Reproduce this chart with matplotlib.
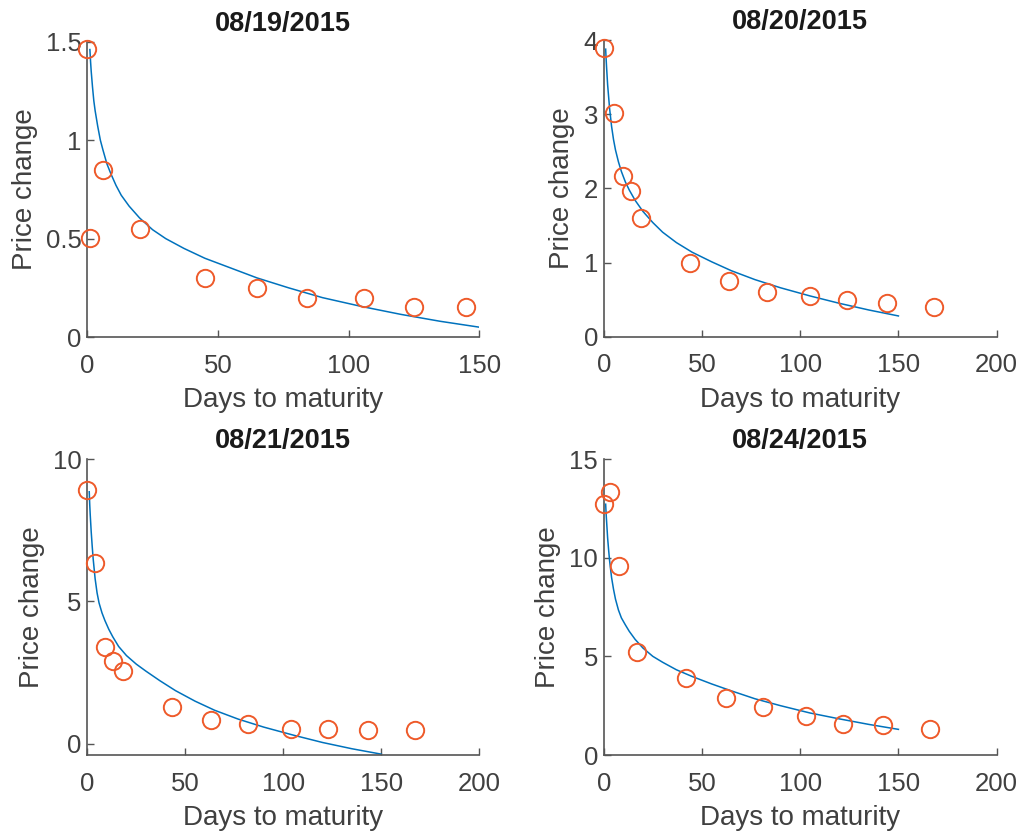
import matplotlib
matplotlib.use("Agg")
import matplotlib.pyplot as plt

plt.rcParams["font.family"] = ["Liberation Sans", "DejaVu Sans"]

# titles (trading dates)
dates = ["08/19/2015", "08/20/2015", "08/21/2015", "08/24/2015"]

# observed price changes vs days to maturity
days_0819 = [0, 1, 6, 20, 45, 65, 84, 106, 125, 145]
chg_0819 = [1.465, 0.505, 0.85, 0.55, 0.30, 0.25, 0.20, 0.20, 0.15, 0.15]

days_0820 = [0, 5, 10, 14, 19, 44, 64, 83, 105, 124, 144, 168]
chg_0820 = [3.89, 3.02, 2.17, 1.97, 1.60, 1.00, 0.75, 0.60, 0.55, 0.50, 0.45, 0.40]

days_0821 = [0, 4, 9, 13, 18, 43, 63, 82, 104, 123, 143, 167]
chg_0821 = [8.90, 6.36, 3.39, 2.91, 2.57, 1.29, 0.84, 0.70, 0.54, 0.54, 0.49, 0.49]

days_0824 = [0, 3, 8, 17, 42, 62, 81, 103, 122, 142, 166]
chg_0824 = [12.70, 13.31, 9.58, 5.24, 3.89, 2.91, 2.42, 1.99, 1.55, 1.50, 1.30]

# fitted curves
fit_days = [1, 1.25, 1.5, 2, 2.5, 3, 4, 5, 6, 7.5, 9, 11, 13, 16, 20, 25, 30,
            37, 45, 55, 65, 77, 90, 105, 120, 135, 150]
fit_0819 = [1.46, 1.40, 1.35, 1.27, 1.20, 1.15, 1.07, 1.00, 0.95, 0.88, 0.83,
            0.77, 0.72, 0.665, 0.605, 0.545, 0.50, 0.45, 0.40, 0.35, 0.30, 0.25,
            0.20, 0.155, 0.115, 0.08, 0.05]
fit_0820 = [3.88, 3.74, 3.62, 3.40, 3.24, 3.08, 2.84, 2.66, 2.52, 2.36, 2.23,
            2.09, 1.98, 1.84, 1.69, 1.54, 1.41, 1.27, 1.14, 1.01, 0.89, 0.77,
            0.66, 0.55, 0.45, 0.36, 0.28]
fit_0821 = [8.85, 8.40, 8.05, 7.45, 6.95, 6.50, 5.80, 5.30, 4.95, 4.60, 4.33,
            4.02, 3.76, 3.42, 3.10, 2.80, 2.55, 2.22, 1.87, 1.50, 1.18, 0.87,
            0.59, 0.31, 0.05, -0.17, -0.36]
fit_0824 = [12.71, 12.2, 11.8, 11.0, 10.4, 9.85, 9.0, 8.4, 7.9, 7.35, 6.95,
            6.6, 6.27, 5.86, 5.42, 5.0, 4.7, 4.32, 3.98, 3.6, 3.25, 2.85, 2.5,
            2.13, 1.83, 1.55, 1.30]

panels = [
    (days_0819, chg_0819, fit_0819, (0, 150), (0, 1.5), [0, 50, 100, 150], [0, 0.5, 1, 1.5], ["0", "0.5", "1", "1.5"]),
    (days_0820, chg_0820, fit_0820, (0, 200), (0, 4), [0, 50, 100, 150, 200], [0, 1, 2, 3, 4], None),
    (days_0821, chg_0821, fit_0821, (0, 200), (-0.39, 10), [0, 50, 100, 150, 200], [0, 5, 10], None),
    (days_0824, chg_0824, fit_0824, (0, 200), (0, 15), [0, 50, 100, 150, 200], [0, 5, 10, 15], None),
]

positions = [
    [0.0854, 0.5983, 0.3836, 0.3520],
    [0.5907, 0.5987, 0.3845, 0.3533],
    [0.0854, 0.1001, 0.3836, 0.3528],
    [0.5907, 0.1001, 0.3845, 0.3528],
]

axis_color = "#555555"
text_color = "#404040"

fig = plt.figure(figsize=(10.22, 8.39), dpi=100)

for i, (dx, dy, fy, xl, yl, xt, yt, ytl) in enumerate(panels):
    ax = fig.add_axes(positions[i])
    ax.plot(fit_days, fy, color="#0072BD", linewidth=1.1, zorder=2)
    ax.plot(dx, dy, linestyle="none", marker="o", markersize=12.5,
            markerfacecolor="none", markeredgecolor="#EE5A2A",
            markeredgewidth=1.4, clip_on=False, zorder=3)
    ax.set_xlim(*xl)
    ax.set_ylim(*yl)
    ax.set_xticks(xt)
    ax.set_yticks(yt)
    if ytl:
        ax.set_yticklabels(ytl)
    for s in ["top", "right"]:
        ax.spines[s].set_visible(False)
    for s in ["left", "bottom"]:
        ax.spines[s].set_color(axis_color)
        ax.spines[s].set_linewidth(1.2)
    ax.tick_params(direction="in", length=5, width=1.0, color=axis_color,
                   labelcolor=text_color, labelsize=18.5)
    ax.tick_params(axis="x", pad=12)
    ax.tick_params(axis="y", pad=4)
    ax.set_xlabel("Days to maturity", fontsize=20, color=text_color, labelpad=7)
    ax.set_ylabel("Price change", fontsize=20, color=text_color, labelpad=6)
    ax.set_title(dates[i], fontsize=19.5, fontweight="bold", color="#1a1a1a", pad=8)

fig.savefig("out.png", dpi=100)
